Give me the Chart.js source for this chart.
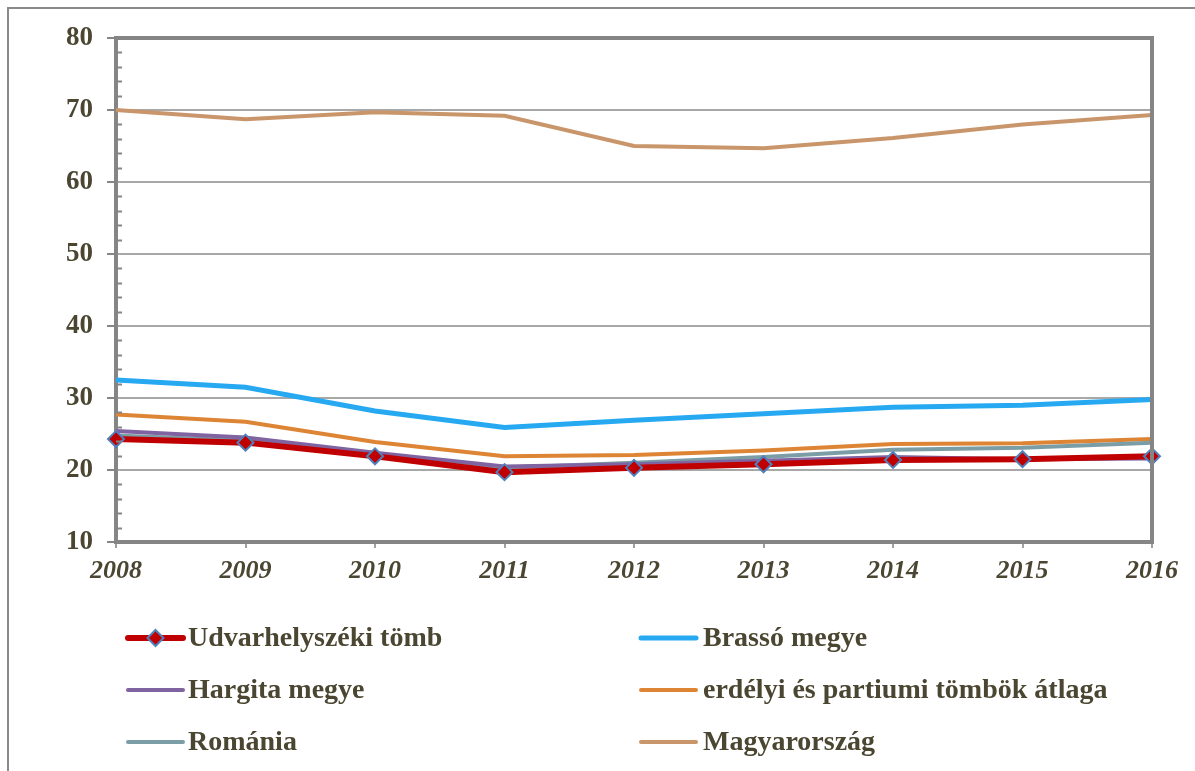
<!DOCTYPE html>
<html>
<head>
<meta charset="utf-8">
<script src="https://cdn.jsdelivr.net/npm/chart.js@4/dist/chart.umd.min.js"></script>
<style>
  body { margin: 0; background: #fff; overflow: hidden; }
  #frame { position: absolute; left: 7px; top: 7px; width: 1300px; height: 900px;
           border-left: 2px solid #8a8a8a; border-top: 2px solid #8a8a8a; }
  #chart { position: absolute; left: 0; top: 0; }
</style>
</head>
<body>
<div id="frame"></div>
<canvas id="chart" width="1195" height="771"></canvas>
<script>
(() => {
  const years = ["2008", "2009", "2010", "2011", "2012", "2013", "2014", "2015", "2016"];

  const udvarhely = [24.3, 23.8, 21.9, 19.7, 20.3, 20.8, 21.4, 21.5, 21.9];
  const brasso = [32.5, 31.5, 28.2, 25.9, 26.9, 27.8, 28.7, 29.0, 29.8];
  const hargita = [25.4, 24.5, 22.4, 20.5, 20.8, 21.3, 21.8, 21.5, 21.6];
  const erdelyi = [27.7, 26.7, 23.9, 21.9, 22.1, 22.7, 23.6, 23.7, 24.3];
  const romania = [24.8, 24.1, 22.1, 20.3, 21.0, 21.8, 22.8, 23.1, 23.8];
  const magyar = [70.0, 68.7, 69.7, 69.2, 65.0, 64.7, 66.1, 68.0, 69.3];

  const yTicks = [10, 20, 30, 40, 50, 60, 70, 80];

  const textColor = "#4b4631";
  const axisColor = "#858585";
  const gridColor = "#a8a8a8";
  const fontFamily = "'Liberation Serif', 'Times New Roman', serif";

  const series = [
    { label: "Udvarhelyszéki tömb", data: udvarhely, color: "#c00000", width: 6, marker: true, order: 0 },
    { label: "Brassó megye", data: brasso, color: "#27a9f2", width: 5, order: 5 },
    { label: "Hargita megye", data: hargita, color: "#8064a2", width: 4, order: 1 },
    { label: "erdélyi és partiumi tömbök átlaga", data: erdelyi, color: "#dd8534", width: 4, order: 3 },
    { label: "Románia", data: romania, color: "#7b9ea6", width: 4, order: 2 },
    { label: "Magyarország", data: magyar, color: "#c9956b", width: 4, order: 4 },
  ];

  const datasets = series.map((s) => ({
    label: s.label,
    data: s.data,
    borderColor: s.color,
    backgroundColor: s.color,
    borderWidth: s.width,
    tension: 0,
    order: s.order,
    pointStyle: "rectRot",
    pointRadius: s.marker ? 8 : 0,
    pointBorderColor: "#4f81bd",
    pointBorderWidth: 2,
    pointBackgroundColor: s.color,
  }));

  // minor ticks on the inside of the y axis, plus the top and right frame
  const framePlugin = {
    id: "frame",
    afterDatasetsDraw(chart) {
      const { ctx, chartArea, scales } = chart;
      ctx.save();
      ctx.strokeStyle = axisColor;
      ctx.lineWidth = 2;
      for (let v = 12; v < 80; v += 2) {
        if (v % 10 === 0) continue;
        const y = Math.round(scales.y.getPixelForValue(v)) + 0.5;
        ctx.beginPath();
        ctx.moveTo(chartArea.left, y);
        ctx.lineTo(chartArea.left + 6, y);
        ctx.stroke();
      }
      ctx.lineWidth = 4;
      ctx.beginPath();
      ctx.moveTo(chartArea.left - 2, chartArea.top);
      ctx.lineTo(chartArea.right, chartArea.top);
      ctx.lineTo(chartArea.right, chartArea.bottom + 2);
      ctx.stroke();
      ctx.restore();
    },
  };

  const legendPlugin = {
    id: "sideLegend",
    afterDraw(chart) {
      const { ctx } = chart;
      const cols = [{ x0: 128, x1: 183, tx: 188 }, { x0: 641, x1: 696, tx: 703 }];
      const rows = [638, 690, 742];
      ctx.save();
      chart.data.datasets.forEach((ds, i) => {
        const col = cols[i % 2];
        const y = rows[Math.floor(i / 2)];
        ctx.strokeStyle = ds.borderColor;
        ctx.lineWidth = ds.borderWidth;
        ctx.lineCap = "round";
        ctx.beginPath();
        ctx.moveTo(col.x0, y);
        ctx.lineTo(col.x1, y);
        ctx.stroke();
        if (ds.pointRadius > 0) {
          ctx.fillStyle = ds.pointBackgroundColor;
          ctx.strokeStyle = ds.pointBorderColor;
          ctx.lineWidth = ds.pointBorderWidth;
          Chart.helpers.drawPoint(ctx, { pointStyle: "rectRot", radius: 8, borderWidth: 2 }, (col.x0 + col.x1) / 2, y);
        }
        ctx.fillStyle = textColor;
        ctx.font = `bold 28px ${fontFamily}`;
        ctx.textBaseline = "middle";
        ctx.textAlign = "left";
        ctx.fillText(ds.label, col.tx, y + 1);
      });
      ctx.restore();
    },
  };

  new Chart(document.getElementById("chart"), {
    type: "line",
    data: { labels: years, datasets },
    plugins: [framePlugin, legendPlugin],
    options: {
      responsive: false,
      animation: false,
      layout: { padding: { top: 38, right: 43, bottom: 171, left: 0 } },
      plugins: { legend: { display: false }, tooltip: { enabled: false } },
      scales: {
        x: {
          offset: false,
          afterFit: (scale) => { scale.height = 58; },
          grid: { drawOnChartArea: false, tickLength: 6, tickColor: "#a0a0a0", lineWidth: 2 },
          border: { color: axisColor, width: 4 },
          ticks: {
            color: textColor,
            padding: 8,
            maxRotation: 0,
            font: { family: fontFamily, size: 26, weight: "bold", style: "italic" },
          },
        },
        y: {
          min: 10,
          max: 80,
          afterFit: (scale) => { scale.width = 116; },
          afterBuildTicks: (scale) => { scale.ticks = yTicks.map((v) => ({ value: v })); },
          grid: {
            color: (c) => (c.tick && (c.tick.value === 10 || c.tick.value === 80) ? "rgba(0,0,0,0)" : gridColor),
            lineWidth: 2,
            tickLength: 9,
            tickColor: axisColor,
          },
          border: { color: axisColor, width: 4 },
          ticks: {
            color: textColor,
            padding: 14,
            font: { family: fontFamily, size: 27, weight: "bold" },
          },
        },
      },
    },
  });
})();
</script>
</body>
</html>
